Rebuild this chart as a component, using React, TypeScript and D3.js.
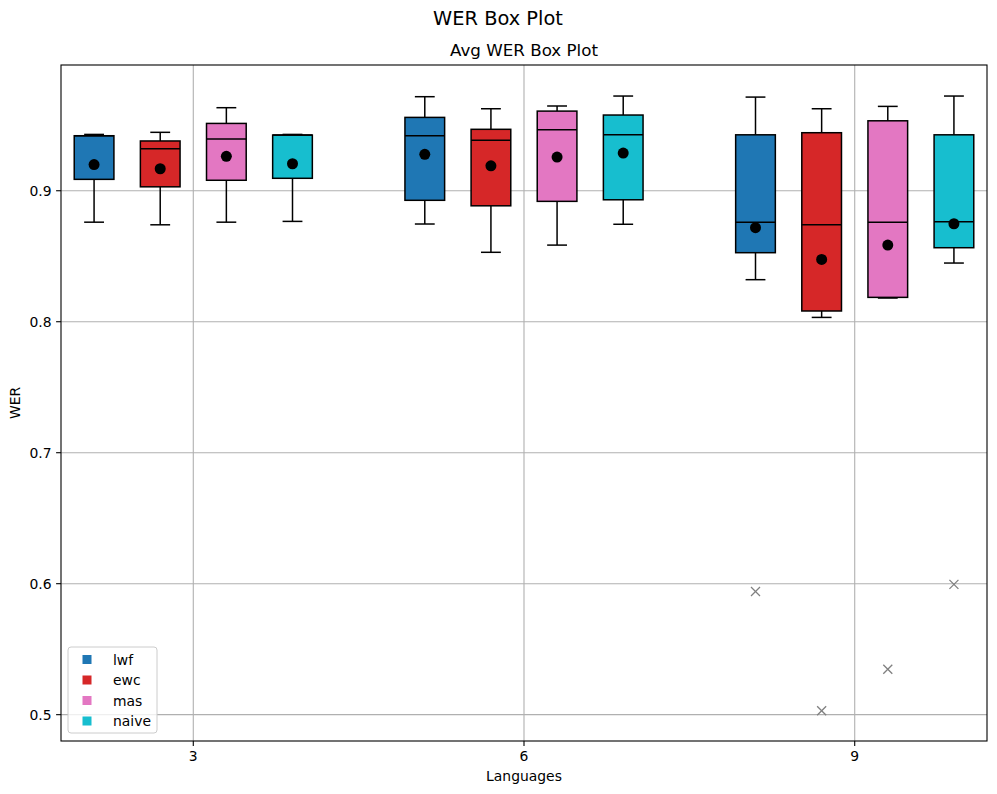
import React from "react";
import * as d3 from "d3";

const languages = [3, 6, 9];
const methods = ["lwf", "ewc", "mas", "naive"];
const methodColors = ["#1f77b4", "#d62728", "#e377c2", "#17becf"];
const methodOffsets = [-0.9, -0.3, 0.3, 0.9];
const yTicks = [0.5, 0.6, 0.7, 0.8, 0.9];

// rows: language group (3, 6, 9); columns: method (lwf, ewc, mas, naive)
const whiskerLow = [
  [0.876, 0.874, 0.876, 0.8766],
  [0.8746, 0.853, 0.8585, 0.8744],
  [0.8321, 0.8033, 0.8181, 0.8448],
];
const q1 = [
  [0.9087, 0.903, 0.908, 0.9095],
  [0.8927, 0.8885, 0.8919, 0.8931],
  [0.8527, 0.8082, 0.8186, 0.8565],
];
const median = [
  [0.942, 0.932, 0.9395, 0.9425],
  [0.942, 0.9385, 0.9466, 0.9427],
  [0.8759, 0.874, 0.8759, 0.8763],
];
const q3 = [
  [0.942, 0.938, 0.9514, 0.9425],
  [0.956, 0.9469, 0.9608, 0.9578],
  [0.9427, 0.9443, 0.9534, 0.9427],
];
const whiskerHigh = [
  [0.943, 0.9446, 0.9634, 0.943],
  [0.9718, 0.9626, 0.9647, 0.9723],
  [0.9715, 0.9626, 0.9644, 0.9723],
];
const means = [
  [0.92, 0.9168, 0.9263, 0.9206],
  [0.9278, 0.919, 0.9257, 0.9288],
  [0.8718, 0.8476, 0.8585, 0.8748],
];
// outliers: [groupIndex, methodIndex, value]
const outliers: [number, number, number][] = [
  [2, 0, 0.594],
  [2, 1, 0.503],
  [2, 2, 0.5347],
  [2, 3, 0.5995],
];

const W = 997;
const H = 794;
const left = 61;
const right = 987;
const top = 65;
const bottom = 741;
const FONT = "DejaVu Sans, sans-serif";

export default function App() {
  const x = d3.scaleLinear().domain([1.8, 10.2]).range([left, right]);
  const y = d3.scaleLinear().domain([0.4799, 0.996]).range([bottom, top]);
  const boxW = x(0.36) - x(0);
  const capW = boxW / 2;
  const grid = "#b0b0b0";

  const boxes: React.ReactNode[] = [];
  languages.forEach((lang, gi) => {
    methods.forEach((m, mi) => {
      const cx = x(lang + methodOffsets[mi]);
      const key = `${gi}-${mi}`;
      boxes.push(
        <g key={key}>
          <line x1={cx} x2={cx} y1={y(whiskerHigh[gi][mi])} y2={y(q3[gi][mi])} stroke="#000" strokeWidth={1.5} />
          <line x1={cx} x2={cx} y1={y(q1[gi][mi])} y2={y(whiskerLow[gi][mi])} stroke="#000" strokeWidth={1.5} />
          <line x1={cx - capW / 2} x2={cx + capW / 2} y1={y(whiskerHigh[gi][mi])} y2={y(whiskerHigh[gi][mi])} stroke="#000" strokeWidth={1.5} />
          <line x1={cx - capW / 2} x2={cx + capW / 2} y1={y(whiskerLow[gi][mi])} y2={y(whiskerLow[gi][mi])} stroke="#000" strokeWidth={1.5} />
          <rect
            x={cx - boxW / 2}
            y={y(q3[gi][mi])}
            width={boxW}
            height={y(q1[gi][mi]) - y(q3[gi][mi])}
            fill={methodColors[mi]}
            stroke="#000"
            strokeWidth={1.5}
          />
          <line x1={cx - boxW / 2} x2={cx + boxW / 2} y1={y(median[gi][mi])} y2={y(median[gi][mi])} stroke="#000" strokeWidth={1.5} />
          <circle cx={cx} cy={y(means[gi][mi])} r={5.5} fill="#000" />
        </g>
      );
    });
  });

  const legendX = 68;
  const legendY = 647;

  return (
    <svg width={W} height={H} style={{ position: "absolute", left: 0, top: 0, background: "#fff" }} fontFamily={FONT}>
      <rect x={0} y={0} width={W} height={H} fill="#fff" />
      <text x={498} y={25} textAnchor="middle" fontSize={19.4}>WER Box Plot</text>
      <text x={(left + right) / 2} y={56} textAnchor="middle" fontSize={16.7}>Avg WER Box Plot</text>

      {/* grid */}
      {languages.map((t) => (
        <line key={`gx${t}`} x1={x(t)} x2={x(t)} y1={top} y2={bottom} stroke={grid} strokeWidth={1.1} />
      ))}
      {yTicks.map((t) => (
        <line key={`gy${t}`} x1={left} x2={right} y1={y(t)} y2={y(t)} stroke={grid} strokeWidth={1.1} />
      ))}

      {boxes}

      {outliers.map(([gi, mi, v], i) => {
        const cx = x(languages[gi] + methodOffsets[mi]);
        const cy = y(v);
        const s = 4.5;
        return (
          <g key={`o${i}`} stroke="#808080" strokeWidth={1.3}>
            <line x1={cx - s} x2={cx + s} y1={cy - s} y2={cy + s} />
            <line x1={cx - s} x2={cx + s} y1={cy + s} y2={cy - s} />
          </g>
        );
      })}

      {/* spines */}
      <rect x={left} y={top} width={right - left} height={bottom - top} fill="none" stroke="#000" strokeWidth={1.1} />

      {/* x ticks */}
      {languages.map((t) => (
        <g key={`xt${t}`}>
          <line x1={x(t)} x2={x(t)} y1={bottom} y2={bottom + 4.9} stroke="#000" strokeWidth={1.1} />
          <text x={x(t)} y={761} textAnchor="middle" fontSize={13.9}>{t}</text>
        </g>
      ))}
      {/* y ticks */}
      {yTicks.map((t) => (
        <g key={`yt${t}`}>
          <line x1={left - 4.9} x2={left} y1={y(t)} y2={y(t)} stroke="#000" strokeWidth={1.1} />
          <text x={left - 9.5} y={y(t)} dy="0.36em" textAnchor="end" fontSize={13.9}>{t.toFixed(1)}</text>
        </g>
      ))}

      <text x={(left + right) / 2} y={781} textAnchor="middle" fontSize={13.9}>Languages</text>
      <text transform={`translate(20,${(top + bottom) / 2}) rotate(-90)`} textAnchor="middle" fontSize={13.9}>WER</text>

      {/* legend */}
      <rect x={legendX} y={legendY} width={89} height={86} rx={3} fill="#fff" fillOpacity={0.8} stroke="#cccccc" strokeWidth={1} />
      {methods.map((m, i) => {
        const cy = 659.5 + i * 20.5;
        return (
          <g key={`lg${m}`}>
            <rect x={87 - 4.5} y={cy - 4.5} width={9} height={9} fill={methodColors[i]} />
            <text x={113} y={cy} dy="0.36em" fontSize={13.9}>{m}</text>
          </g>
        );
      })}
    </svg>
  );
}
